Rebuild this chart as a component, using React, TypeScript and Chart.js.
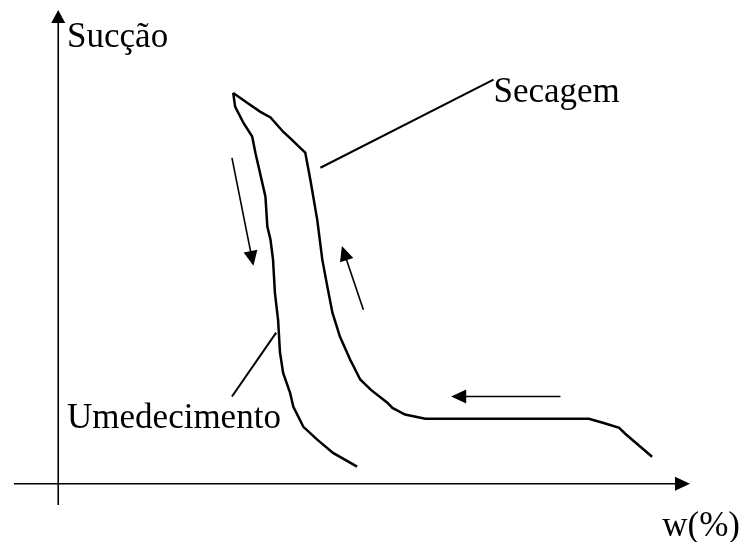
import React, { useEffect, useRef } from "react";
import { Chart, registerables } from "chart.js";

Chart.register(...registerables);

// Drying branch (Secagem): from high water content, along the plateau, up to the peak
const dryingW = [94.0, 89.7, 88.8, 86.6, 84.0, 58.1, 54.9, 52.9, 52.1, 49.5, 47.8, 46.2, 44.6, 43.4, 42.6, 41.8, 41.0, 39.9, 39.1, 38.3, 37.0, 35.6, 33.6, 32.0, 29.9, 27.7];
const dryingSuction = [5.7, 10.6, 11.8, 12.7, 13.7, 13.7, 14.6, 16.0, 17.1, 19.8, 22.0, 26.2, 31.0, 36.1, 41.6, 47.3, 55.7, 64.2, 69.9, 70.9, 72.6, 74.3, 77.3, 78.5, 80.4, 82.5];

// Wetting branch (Umedecimento): from the peak down
const wettingW = [27.7, 28.0, 29.3, 30.7, 31.2, 32.3, 32.8, 33.1, 33.6, 34.0, 34.3, 34.8, 35.1, 35.6, 36.7, 37.2, 38.8, 41.0, 43.5, 47.3];
const wettingSuction = [82.5, 79.6, 76.2, 73.3, 69.9, 63.5, 60.6, 54.3, 51.5, 47.3, 40.3, 34.6, 27.7, 23.4, 19.2, 16.3, 12.0, 9.3, 6.5, 3.6];

// Axis texts and curve labels
const yAxisLabel = "Sucção";
const xAxisLabel = "w(%)";
const curveLabels = ["Secagem", "Umedecimento"];

// Axis ranges (arbitrary units)
const xRange = [-7, 100];
const yRange = [-4.5, 100];

// Direction arrows: [tailW, tailS, tipW, tipS]
const directionArrows = [
  [27.5, 68.8, 30.9, 46.0],
  [48.3, 36.7, 44.9, 50.2],
  [79.5, 18.4, 62.2, 18.4],
];

// Leader lines from label to curve: [w1, s1, w2, s2]
const leaderLines = [
  [41.5, 66.7, 68.9, 85.3],
  [34.5, 31.9, 27.5, 18.4],
];

// Label anchor points (w, s) for: Sucção, Secagem, Umedecimento, w(%)
const labelAnchors = [
  [1.4, 92.2],
  [68.9, 80.6],
  [1.4, 11.8],
  [95.6, -11.0],
];

function arrowHead(ctx: CanvasRenderingContext2D, x1: number, y1: number, x2: number, y2: number, len: number, half: number, lw: number) {
  const dx = x2 - x1, dy = y2 - y1;
  const d = Math.hypot(dx, dy);
  const ux = dx / d, uy = dy / d;
  const bx = x2 - ux * len, by = y2 - uy * len;
  ctx.lineWidth = lw;
  ctx.beginPath();
  ctx.moveTo(x1, y1);
  ctx.lineTo(bx + ux * 1, by + uy * 1);
  ctx.stroke();
  ctx.beginPath();
  ctx.moveTo(x2, y2);
  ctx.lineTo(bx - uy * half, by + ux * half);
  ctx.lineTo(bx + uy * half, by - ux * half);
  ctx.closePath();
  ctx.fill();
}

const overlayPlugin = {
  id: "overlay",
  afterDraw(chart: any) {
    const { ctx } = chart;
    const xs = chart.scales.x, ys = chart.scales.y;
    const px = (v: number) => xs.getPixelForValue(v);
    const py = (v: number) => ys.getPixelForValue(v);
    ctx.save();
    ctx.strokeStyle = "#000";
    ctx.fillStyle = "#000";
    ctx.lineCap = "butt";
    // axes
    arrowHead(ctx, px(xRange[0]), py(0), px(xRange[1]), py(0), 15, 7, 1.6);
    arrowHead(ctx, px(0), py(yRange[0]), px(0), py(yRange[1]), 13, 7, 1.6);
    // direction arrows
    directionArrows.forEach(([a, b, c, d]) => {
      arrowHead(ctx, px(a), py(b), px(c), py(d), 15, 7, 1.6);
    });
    // leader lines
    ctx.lineWidth = 2;
    leaderLines.forEach(([a, b, c, d]) => {
      ctx.beginPath();
      ctx.moveTo(px(a), py(b));
      ctx.lineTo(px(c), py(d));
      ctx.stroke();
    });
    // labels
    ctx.font = '35px "Liberation Serif", "Times New Roman", serif';
    ctx.textBaseline = "alphabetic";
    ctx.textAlign = "left";
    const texts = [yAxisLabel, curveLabels[0], curveLabels[1], xAxisLabel];
    texts.forEach((t, i) => {
      ctx.fillText(t, px(labelAnchors[i][0]), py(labelAnchors[i][1]));
    });
    ctx.restore();
  },
};

export default function App() {
  const ref = useRef<HTMLCanvasElement>(null);
  useEffect(() => {
    if (!ref.current) return;
    const chart = new Chart(ref.current, {
      type: "scatter",
      data: {
        datasets: [
          {
            label: curveLabels[0],
            data: dryingW.map((w, i) => ({ x: w, y: dryingSuction[i] })),
            showLine: true,
            borderColor: "#000",
            borderWidth: 2.5,
            pointRadius: 0,
            tension: 0,
            fill: false,
          },
          {
            label: curveLabels[1],
            data: wettingW.map((w, i) => ({ x: w, y: wettingSuction[i] })),
            showLine: true,
            borderColor: "#000",
            borderWidth: 2.5,
            pointRadius: 0,
            tension: 0,
            fill: false,
          },
        ],
      },
      options: {
        responsive: false,
        animation: false,
        devicePixelRatio: 1,
        layout: { padding: { left: 14, right: 54, top: 10, bottom: 37 } },
        scales: {
          x: { type: "linear", min: xRange[0], max: xRange[1], display: false },
          y: { type: "linear", min: yRange[0], max: yRange[1], display: false },
        },
        plugins: { legend: { display: false }, tooltip: { enabled: false } },
      },
      plugins: [overlayPlugin],
    });
    return () => chart.destroy();
  }, []);
  return (
    <div style={{ position: "absolute", left: 0, top: 0, width: 744, height: 542, background: "#fff" }}>
      <canvas ref={ref} width={744} height={542} style={{ display: "block", width: 744, height: 542 }} />
    </div>
  );
}
